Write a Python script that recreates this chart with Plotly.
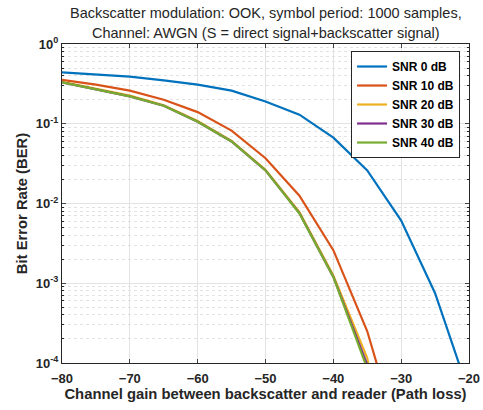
import plotly.graph_objects as go

path_loss = [-80, -75, -70, -65, -60, -55, -50, -45, -40, -35, -30, -25, -20]
ber_snr0 = [0.44, 0.41, 0.39, 0.35, 0.31, 0.26, 0.19, 0.13, 0.067, 0.026, 0.0061, 7.5e-4, 4.2e-5]
ber_snr10 = [0.355, 0.31, 0.26, 0.20, 0.14, 0.082, 0.037, 0.0125, 0.0026, 2.5e-4, 9e-6, None, None]
ber_snr20 = [0.335, 0.275, 0.225, 0.171, 0.108, 0.061, 0.0265, 0.0078, 0.00125, 1.15e-4, 1e-6, None, None]
ber_snr30 = [0.33, 0.27, 0.22, 0.168, 0.106, 0.060, 0.026, 0.0076, 0.0012, 9.5e-5, 1e-6, None, None]
ber_snr40 = [0.33, 0.27, 0.22, 0.168, 0.106, 0.060, 0.026, 0.0075, 0.0012, 8.5e-5, 1e-6, None, None]

series_names = ["SNR 0 dB", "SNR 10 dB", "SNR 20 dB", "SNR 30 dB", "SNR 40 dB"]
series_values = [ber_snr0, ber_snr10, ber_snr20, ber_snr30, ber_snr40]
colors = ["#0072BD", "#D95319", "#EDB120", "#7E2F8E", "#77AC30"]

x_ticks = [-80, -70, -60, -50, -40, -30, -20]
y_tickvals = [1e-4, 1e-3, 1e-2, 1e-1, 1]
y_ticktext = ["10<sup>-4</sup>", "10<sup>-3</sup>", "10<sup>-2</sup>", "10<sup>-1</sup>", "10<sup>0</sup>"]
y_minor_vals = [m * d for d in [1e-4, 1e-3, 1e-2, 1e-1] for m in range(2, 10)]

FONT = "Liberation Sans, Arial, sans-serif"
DARK = "#262626"

fig = go.Figure()
for name, vals, c in zip(series_names, series_values, colors):
    fig.add_trace(go.Scatter(x=path_loss, y=vals, mode="lines", name=name,
                             line=dict(color=c, width=2.2), connectgaps=False))

fig.update_layout(
    width=483, height=410,
    margin=dict(l=62, r=14, t=44, b=47),
    paper_bgcolor="white", plot_bgcolor="white",
    font=dict(family=FONT, color=DARK),
    showlegend=True,
    legend=dict(x=0.978, y=0.978, xanchor="right", yanchor="top",
                bgcolor="white", bordercolor=DARK, borderwidth=1,
                font=dict(family=FONT, size=12, color="black", weight="bold"),
                tracegroupgap=0, itemwidth=30),
)

fig.update_xaxes(
    range=[-80, -20], tickvals=x_ticks, ticks="inside", ticklen=4,
    showline=True, linecolor=DARK, linewidth=1, mirror="ticks",
    showgrid=True, gridcolor="#e3e3e3", gridwidth=1, zeroline=False,
    automargin=False, ticklabelstandoff=3,
    tickfont=dict(family=FONT, size=13, color=DARK, weight="bold"),
    title=dict(text="Channel gain between backscatter and reader (Path loss)",
               font=dict(family=FONT, size=14.8, color=DARK, weight="bold"), standoff=3),
)
fig.update_yaxes(
    type="log", range=[-4, 0], tickvals=y_tickvals, ticktext=y_ticktext,
    ticks="inside", ticklen=4,
    showline=True, linecolor=DARK, linewidth=1, mirror="ticks",
    showgrid=True, gridcolor="#e3e3e3", gridwidth=1, zeroline=False,
    automargin=False,
    minor=dict(tickmode="array", tickvals=y_minor_vals, ticks="inside", ticklen=2,
               tickcolor=DARK, showgrid=True, gridcolor="#e2e2e2", griddash="dot", gridwidth=1),
    tickfont=dict(family=FONT, size=13, color=DARK, weight="bold"),
    title=dict(text="Bit Error Rate (BER)",
               font=dict(family=FONT, size=14.8, color=DARK, weight="bold"), standoff=4),
)

fig.add_annotation(text="Backscatter modulation: OOK, symbol period: 1000 samples,",
                   xref="paper", yref="paper", x=0.5, y=(410 - 47 - 13) / 319,
                   xanchor="center", yanchor="middle", showarrow=False,
                   font=dict(family=FONT, size=14.5, color=DARK))
fig.add_annotation(text="Channel: AWGN (S = direct signal+backscatter signal)",
                   xref="paper", yref="paper", x=0.5, y=(410 - 47 - 33) / 319,
                   xanchor="center", yanchor="middle", showarrow=False,
                   font=dict(family=FONT, size=14.5, color=DARK))

fig.write_html("out.html", config={"displayModeBar": False},
               post_script="document.body.style.margin='0';document.body.style.overflow='hidden';")
